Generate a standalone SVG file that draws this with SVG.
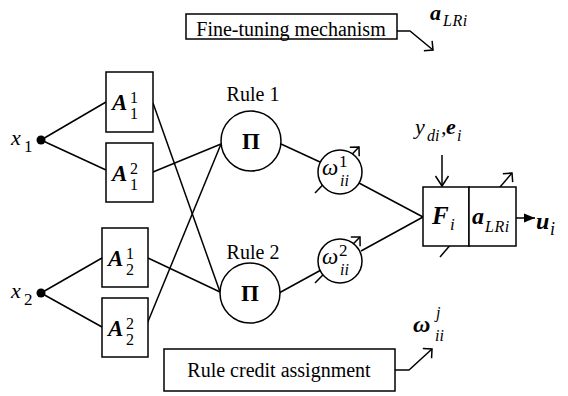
<svg xmlns="http://www.w3.org/2000/svg" width="568" height="396" viewBox="0 0 568 396" font-family="'Liberation Serif', 'DejaVu Serif', serif">
  <style>
    text { font-family: "Liberation Serif", "Tinos", "DejaVu Serif", serif; fill: #000; }
    .lbl { font-size: 20px; }
    .var { font-size: 22px; font-style: italic; }
    .bv { font-size: 24px; font-style: italic; font-weight: bold; }
    .sm { font-size: 17px; }
    .smi { font-size: 16px; font-style: italic; }
    .box { fill: #fff; stroke: #000; stroke-width: 1.5; }
    .ln { fill: none; stroke: #000; stroke-width: 1.5; }
    .mid { text-anchor: middle; }
  </style>
  <defs>
    <marker id="half" viewBox="-10 -10 12 20" markerWidth="12" markerHeight="20" refX="0" refY="0" orient="auto" markerUnits="userSpaceOnUse">
      <path d="M-6.5,-6.5 L0,0 L-6.5,6.5" fill="none" stroke="#000" stroke-width="1.5"/>
    </marker>
    <marker id="vee" viewBox="-12 -8 14 16" markerWidth="14" markerHeight="16" refX="0" refY="0" orient="auto" markerUnits="userSpaceOnUse">
      <path d="M-10,-6.5 L0,0 L-10,6.5" fill="none" stroke="#000" stroke-width="1.5"/>
    </marker>
    <marker id="solid" viewBox="-12 -6 14 12" markerWidth="14" markerHeight="12" refX="0" refY="0" orient="auto" markerUnits="userSpaceOnUse">
      <path d="M-11,-4.5 L0,0 L-11,4.5 z" fill="#000"/>
    </marker>
  </defs>

  <!-- connectors -->
  <g id="connectors">
    <!-- inputs to membership functions -->
    <line class="ln" x1="41" y1="140" x2="106" y2="102"/>
    <line class="ln" x1="41" y1="140" x2="106" y2="170"/>
    <line class="ln" x1="41" y1="293" x2="102" y2="258"/>
    <line class="ln" x1="41" y1="293" x2="102" y2="327"/>
    <!-- membership functions to rules -->
    <line class="ln" x1="153" y1="103" x2="220" y2="292"/>
    <line class="ln" x1="153" y1="172" x2="221" y2="144"/>
    <line class="ln" x1="148" y1="258" x2="220" y2="292"/>
    <line class="ln" x1="147" y1="324" x2="221" y2="144"/>
    <!-- rules to weights -->
    <line class="ln" x1="281" y1="144" x2="320" y2="162"/>
    <line class="ln" x1="279" y1="293" x2="321" y2="270"/>
    <!-- weights to output node -->
    <line class="ln" x1="359" y1="183" x2="423" y2="217"/>
    <line class="ln" x1="361" y1="251" x2="423" y2="217"/>
    <!-- adjustment arrows through weights and output node -->
    <line class="ln" x1="315" y1="193" x2="359" y2="147" marker-end="url(#half)"/>
    <line class="ln" x1="315" y1="283" x2="360" y2="237" marker-end="url(#half)"/>
    <line class="ln" x1="440" y1="257" x2="512" y2="173" marker-end="url(#half)"/>
    <!-- teaching signal -->
    <line class="ln" x1="442" y1="155" x2="442" y2="186" marker-end="url(#vee)"/>
    <!-- output -->
    <line class="ln" x1="516" y1="218" x2="535" y2="218" marker-end="url(#solid)"/>
    <!-- tuning mechanisms -->
    <polyline class="ln" points="397,31 410,31 433,50" marker-end="url(#half)"/>
    <polyline class="ln" points="395,370 409,370 432,349" marker-end="url(#half)"/>
  </g>

  <!-- inputs -->
  <g id="x1">
    <circle cx="41" cy="140" r="4.5" fill="#000"/>
    <text class="var" x="11" y="145">x</text>
    <text class="sm" x="24" y="152">1</text>
  </g>
  <g id="x2">
    <circle cx="41" cy="293" r="4.5" fill="#000"/>
    <text class="var" x="11" y="298">x</text>
    <text class="sm" x="24" y="305">2</text>
  </g>

  <!-- membership functions -->
  <g id="A11">
    <rect class="box" x="106" y="72" width="47" height="60"/>
    <text class="bv" x="112" y="110" style="font-size:23px">A</text>
    <text class="sm" x="130" y="103" style="font-size:16px">1</text>
    <text class="sm" x="130" y="119" style="font-size:16px">1</text>
  </g>
  <g id="A12">
    <rect class="box" x="106" y="143" width="47" height="59"/>
    <text class="bv" x="112" y="181" style="font-size:23px">A</text>
    <text class="sm" x="130" y="174" style="font-size:16px">2</text>
    <text class="sm" x="130" y="190" style="font-size:16px">1</text>
  </g>
  <g id="A21">
    <rect class="box" x="102" y="228" width="46" height="59"/>
    <text class="bv" x="108" y="266" style="font-size:23px">A</text>
    <text class="sm" x="126" y="259" style="font-size:16px">1</text>
    <text class="sm" x="126" y="275" style="font-size:16px">2</text>
  </g>
  <g id="A22">
    <rect class="box" x="102" y="298" width="46" height="59"/>
    <text class="bv" x="108" y="336" style="font-size:23px">A</text>
    <text class="sm" x="126" y="329" style="font-size:16px">2</text>
    <text class="sm" x="126" y="345" style="font-size:16px">2</text>
  </g>

  <!-- rules -->
  <g id="rule1">
    <text class="lbl mid" x="253" y="101">Rule 1</text>
    <circle class="box" cx="251" cy="141" r="30"/>
    <text class="mid" x="251" y="149" style="font-size:23px;font-weight:bold">Π</text>
  </g>
  <g id="rule2">
    <text class="lbl mid" x="253" y="259">Rule 2</text>
    <circle class="box" cx="250" cy="293" r="30"/>
    <text class="mid" x="250" y="301" style="font-size:23px;font-weight:bold">Π</text>
  </g>

  <!-- rule weights -->
  <g id="w1">
    <circle class="box" cx="340" cy="172" r="22"/>
    <text class="var" x="322" y="175" style="font-size:23px">ω</text>
    <text class="sm" x="339" y="167">1</text>
    <text class="smi" x="340" y="186">ii</text>
  </g>
  <g id="w2">
    <circle class="box" cx="340" cy="261" r="22"/>
    <text class="var" x="322" y="264" style="font-size:23px">ω</text>
    <text class="sm" x="339" y="256">2</text>
    <text class="smi" x="340" y="275">ii</text>
  </g>

  <!-- output node -->
  <g id="output">
    <text class="var" x="415" y="134">y</text>
    <text class="smi" x="427" y="141">di</text>
    <text class="var" x="441" y="134">,</text>
    <text class="bv" x="446" y="134" style="font-size:22px">e</text>
    <text class="smi" x="457" y="141">i</text>
    <rect class="box" x="423" y="187" width="46" height="59"/>
    <rect class="box" x="469" y="187" width="47" height="59"/>
    <text class="bv" x="432" y="224" style="font-size:25px">F</text>
    <text class="smi" x="450" y="230" style="font-size:17px">i</text>
    <text class="bv" x="472" y="224">a</text>
    <text class="smi" x="485" y="232" style="letter-spacing:0.5px">LRi</text>
    <text class="bv" x="536" y="229">u</text>
    <text class="smi" x="550" y="235" style="font-size:18px">i</text>
  </g>

  <!-- fine-tuning mechanism -->
  <g id="fine-tuning">
    <rect class="box" x="186" y="14" width="211" height="25"/>
    <text class="lbl mid" x="291" y="35.5">Fine-tuning mechanism</text>
    <text class="bv" x="430" y="20" style="font-size:22px">a</text>
    <text class="smi" x="443" y="26" style="letter-spacing:0.5px">LRi</text>
  </g>

  <!-- rule credit assignment -->
  <g id="credit">
    <rect class="box" x="164" y="349" width="231" height="42"/>
    <text class="lbl mid" x="279" y="377">Rule credit assignment</text>
    <text class="bv" x="413" y="332">ω</text>
    <text class="smi" x="436" y="318">j</text>
    <text class="smi" x="435" y="341">ii</text>
  </g>
</svg>
